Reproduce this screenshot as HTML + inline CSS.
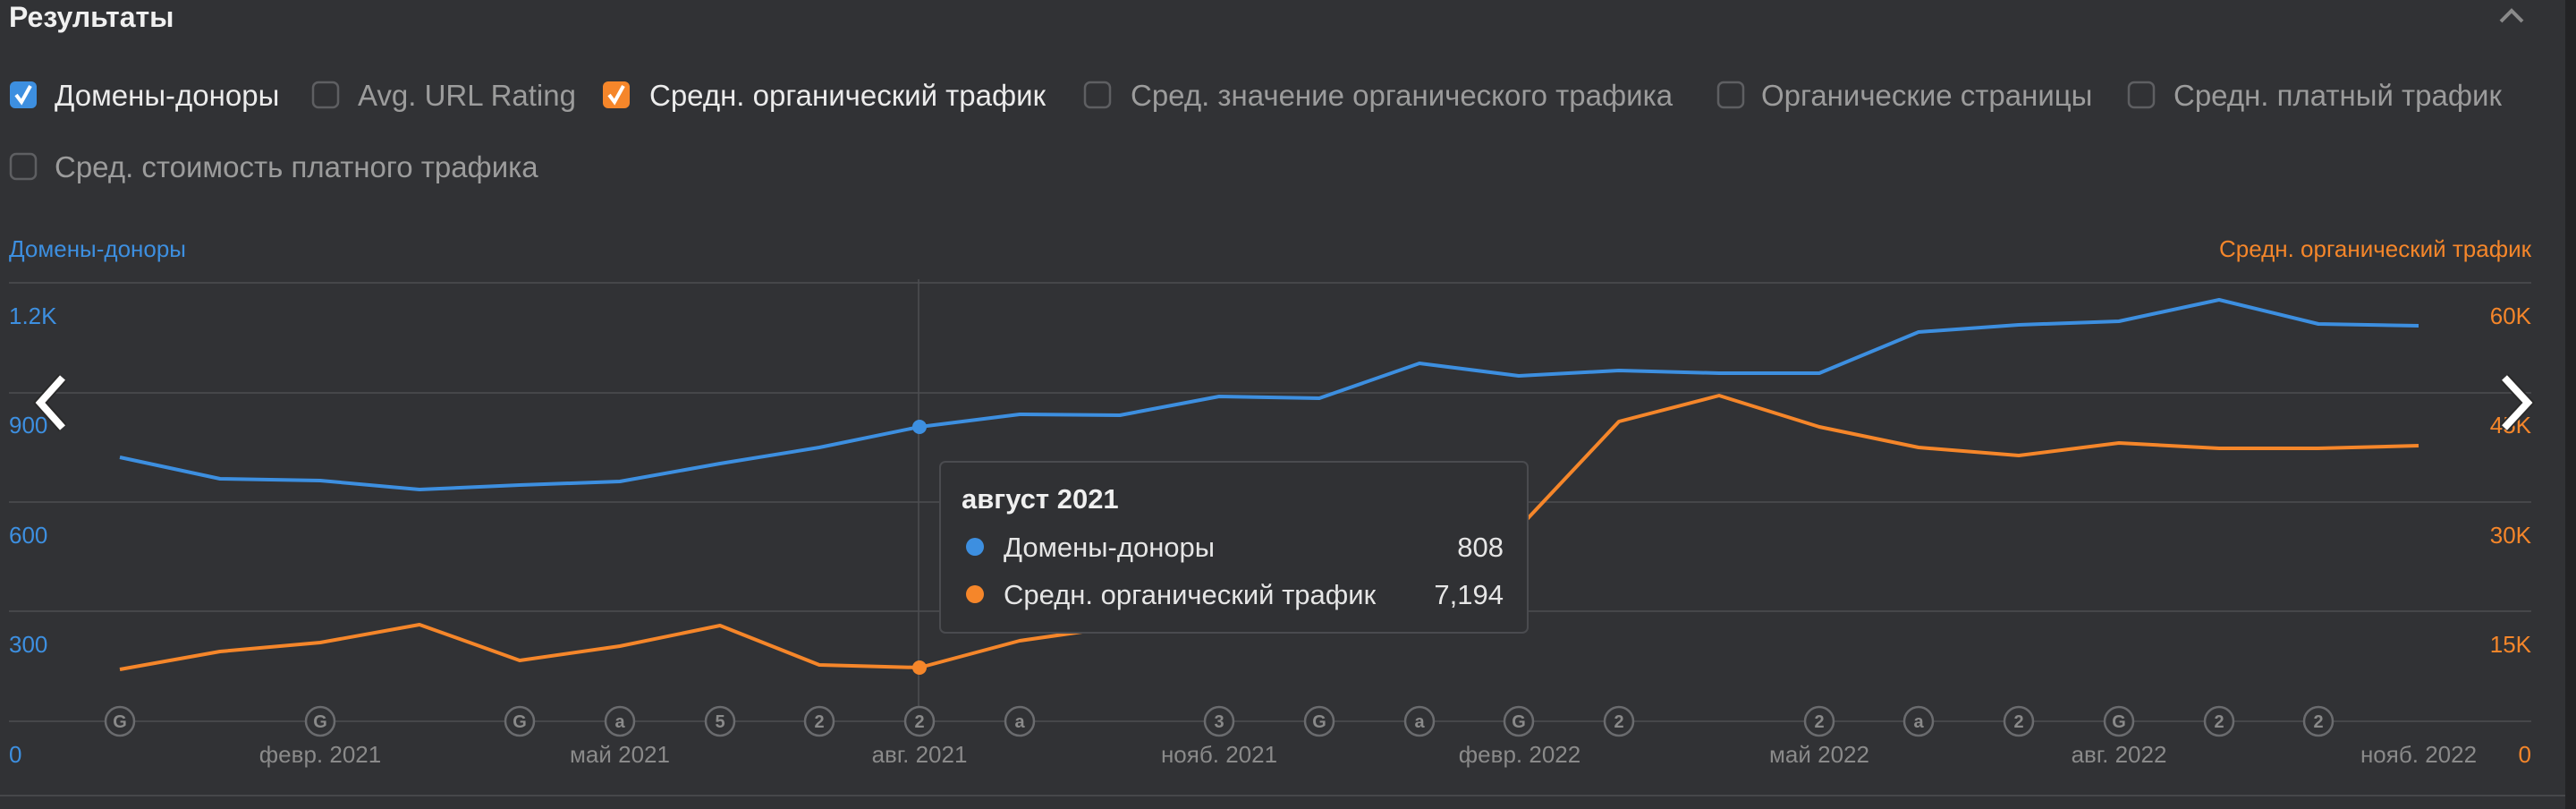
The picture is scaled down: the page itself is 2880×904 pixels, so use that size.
<!DOCTYPE html>
<html><head><meta charset="utf-8"><style>
html,body{margin:0;padding:0;width:2880px;height:904px;overflow:hidden;background:#313235;}
svg{display:block}
text{font-family:"Liberation Sans","DejaVu Sans",sans-serif}
</style></head><body>
<svg width="2880" height="904" viewBox="0 0 2880 904" xmlns="http://www.w3.org/2000/svg">
<rect width="2880" height="904" fill="#313235"/>
<rect x="2868" y="0" width="12" height="904" fill="#232325"/>
<text x="10" y="30" font-size="32" font-weight="bold" fill="#f0f0f0">Результаты</text>
<polyline points="2796,24 2808,12 2820,24" fill="none" stroke="#8a8a8a" stroke-width="4"/>

<g font-size="33">
<rect x="11" y="91" width="30" height="30" rx="6" fill="#3d8fe0"/>
<polyline points="18,106 24,114 34,96" fill="none" stroke="#fff" stroke-width="4"/>
<text x="61" y="118" fill="#ececec">Домены-доноры</text>
<rect x="350" y="92" width="28" height="28" rx="6" fill="none" stroke="#5e5f62" stroke-width="2.5"/>
<text x="400" y="118" fill="#9c9c9c">Avg. URL Rating</text>
<rect x="674" y="91" width="30" height="30" rx="6" fill="#f5862a"/>
<polyline points="681,106 687,114 697,96" fill="none" stroke="#fff" stroke-width="4"/>
<text x="726" y="118" fill="#ececec">Средн. органический трафик</text>
<rect x="1213" y="92" width="28" height="28" rx="6" fill="none" stroke="#5e5f62" stroke-width="2.5"/>
<text x="1264" y="118" fill="#9c9c9c">Сред. значение органического трафика</text>
<rect x="1921" y="92" width="28" height="28" rx="6" fill="none" stroke="#5e5f62" stroke-width="2.5"/>
<text x="1969" y="118" fill="#9c9c9c">Органические страницы</text>
<rect x="2380" y="92" width="28" height="28" rx="6" fill="none" stroke="#5e5f62" stroke-width="2.5"/>
<text x="2430" y="118" fill="#9c9c9c">Средн. платный трафик</text>
<rect x="12" y="172" width="28" height="28" rx="6" fill="none" stroke="#5e5f62" stroke-width="2.5"/>
<text x="61" y="198" fill="#9c9c9c">Сред. стоимость платного трафика</text>
</g>

<text x="10" y="287" font-size="26" fill="#3d8fe0">Домены-доноры</text>
<text x="2830" y="287" font-size="26" fill="#f5862a" text-anchor="end">Средн. органический трафик</text>

<g stroke="#46474a" stroke-width="2">
<line x1="10" y1="316" x2="2830" y2="316"/>
<line x1="10" y1="439" x2="2830" y2="439"/>
<line x1="10" y1="561" x2="2830" y2="561"/>
<line x1="10" y1="683" x2="2830" y2="683"/>
<line x1="10" y1="806" x2="2830" y2="806"/>
<line x1="0" y1="889" x2="2868" y2="889"/>
</g>
<line x1="1027" y1="312" x2="1027" y2="810" stroke="#4d4e52" stroke-width="1.5"/>

<g font-size="26" fill="#3d8fe0">
<text x="10" y="362">1.2K</text><text x="10" y="484">900</text><text x="10" y="607">600</text><text x="10" y="729">300</text><text x="10" y="852">0</text>
</g>
<g font-size="26" fill="#f5862a" text-anchor="end">
<text x="2830" y="362">60K</text><text x="2830" y="484">45K</text><text x="2830" y="607">30K</text><text x="2830" y="729">15K</text><text x="2830" y="852">0</text>
</g>

<g font-size="26" fill="#8a8a8a" text-anchor="middle">
<text x="358" y="852">февр. 2021</text><text x="693" y="852">май 2021</text><text x="1028" y="852">авг. 2021</text><text x="1363" y="852">нояб. 2021</text>
<text x="1699" y="852">февр. 2022</text><text x="2034" y="852">май 2022</text><text x="2369" y="852">авг. 2022</text><text x="2704" y="852">нояб. 2022</text>
</g>

<polyline fill="none" stroke="#3d8fe0" stroke-width="4" stroke-linejoin="round" points="134,511 246,535 358,537 469,547 581,542 693,538 805,518 916,500 1028,477 1140,463 1252,464 1363,443 1475,445 1587,406 1698,420 1810,414 1922,417 2034,417 2145,371 2257,363 2369,359 2481,335 2592,362 2704,364"/>
<polyline fill="none" stroke="#f5862a" stroke-width="4" stroke-linejoin="round" points="134,748 246,728 358,718 469,698 581,738 693,722 805,699 916,743 1028,746 1140,716 1252,700 1363,690 1475,670 1587,640 1698,590 1810,471 1922,442 2034,477 2145,500 2257,509 2369,495 2481,501 2592,501 2704,498"/>
<circle cx="1028" cy="477" r="8" fill="#3d8fe0"/>
<circle cx="1028" cy="746" r="8" fill="#f5862a"/>

<g font-size="20" fill="#8a8a8a" text-anchor="middle" font-weight="bold">
<g stroke="#6a6b6e" stroke-width="2.5" fill="#313235">
<circle cx="134" cy="806" r="16"/><circle cx="358" cy="806" r="16"/><circle cx="581" cy="806" r="16"/><circle cx="693" cy="806" r="16"/><circle cx="805" cy="806" r="16"/><circle cx="916" cy="806" r="16"/><circle cx="1028" cy="806" r="16"/><circle cx="1140" cy="806" r="16"/><circle cx="1363" cy="806" r="16"/><circle cx="1475" cy="806" r="16"/><circle cx="1587" cy="806" r="16"/><circle cx="1698" cy="806" r="16"/><circle cx="1810" cy="806" r="16"/><circle cx="2034" cy="806" r="16"/><circle cx="2145" cy="806" r="16"/><circle cx="2257" cy="806" r="16"/><circle cx="2369" cy="806" r="16"/><circle cx="2481" cy="806" r="16"/><circle cx="2592" cy="806" r="16"/>
</g>
<text x="134" y="813">G</text><text x="358" y="813">G</text><text x="581" y="813">G</text><text x="693" y="813">a</text><text x="805" y="813">5</text><text x="916" y="813">2</text><text x="1028" y="813">2</text><text x="1140" y="813">a</text><text x="1363" y="813">3</text><text x="1475" y="813">G</text><text x="1587" y="813">a</text><text x="1698" y="813">G</text><text x="1810" y="813">2</text><text x="2034" y="813">2</text><text x="2145" y="813">a</text><text x="2257" y="813">2</text><text x="2369" y="813">G</text><text x="2481" y="813">2</text><text x="2592" y="813">2</text>
</g>

<rect x="1051" y="516" width="657" height="191" rx="6" fill="#303134" stroke="#4a4b4f" stroke-width="2"/>
<text x="1075" y="568" font-size="31" font-weight="bold" fill="#f0f0f0">август 2021</text>
<circle cx="1090" cy="611" r="10" fill="#3d8fe0"/>
<text x="1122" y="622" font-size="31" fill="#e6e6e6">Домены-доноры</text>
<text x="1681" y="622" font-size="31" fill="#e6e6e6" text-anchor="end">808</text>
<circle cx="1090" cy="664" r="10" fill="#f5862a"/>
<text x="1122" y="675" font-size="31" fill="#e6e6e6">Средн. органический трафик</text>
<text x="1681" y="675" font-size="31" fill="#e6e6e6" text-anchor="end">7,194</text>

<polyline points="70,422 45,450 70,478" fill="none" stroke="#2a2a2a" stroke-width="12"/>
<polyline points="70,422 45,450 70,478" fill="none" stroke="#fff" stroke-width="8"/>
<polyline points="2800,422 2826,450 2800,478" fill="none" stroke="#2a2a2a" stroke-width="12"/>
<polyline points="2800,422 2826,450 2800,478" fill="none" stroke="#fff" stroke-width="8"/>
</svg>
</body></html>
